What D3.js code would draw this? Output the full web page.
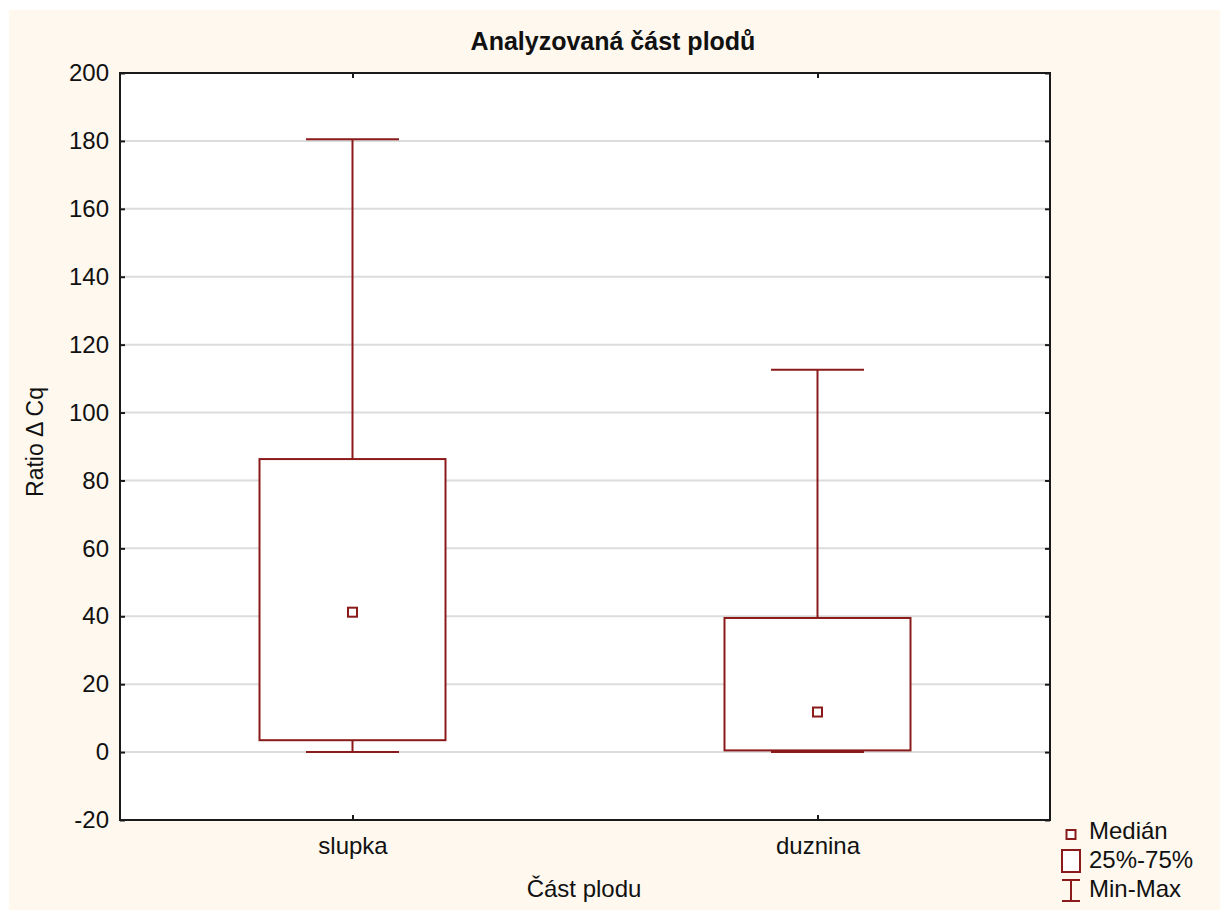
<!DOCTYPE html>
<html>
<head>
<meta charset="utf-8">
<script src="https://cdn.jsdelivr.net/npm/d3@7"></script>
<style>
  html, body { margin: 0; padding: 0; background: #ffffff; }
  svg { display: block; }
  text { font-family: "Liberation Sans", Arial, sans-serif; }
</style>
</head>
<body>
<svg id="chart" width="1227" height="911"></svg>
<script>
// Box plot data: one entry per fruit part
const categories = ["slupka", "duznina"];
const minValues    = [0, 0];
const q1Values     = [3.5, 0.5];
const medianValues = [41.2, 11.8];
const q3Values     = [86.3, 39.5];
const maxValues    = [180.5, 112.6];
const yTicks = [-20, 0, 20, 40, 60, 80, 100, 120, 140, 160, 180, 200];

const title = "Analyzovaná část plodů";
const xTitle = "Část plodu";
const yTitle = "Ratio \u0394 Cq";
const legendLabels = ["Medián", "25%-75%", "Min-Max"];

const boxColor = "#8b1a1a";
const fontSize = "24px";
const svg = d3.select("#chart");

// page background
svg.append("rect").attr("x", 9).attr("y", 10).attr("width", 1211).attr("height", 900)
  .attr("fill", "#fef8ee");

const plot = { left: 120, top: 73, right: 1050, bottom: 820 };

const y = d3.scaleLinear().domain([-20, 200]).range([plot.bottom, plot.top]);
const x = d3.scalePoint().domain(categories).range([plot.left, plot.right]).padding(0.5);
const boxW = (plot.right - plot.left) * 0.2;
const capW = boxW / 2;

// plot area
svg.append("rect").attr("x", plot.left).attr("y", plot.top)
  .attr("width", plot.right - plot.left).attr("height", plot.bottom - plot.top)
  .attr("fill", "#ffffff");

// horizontal grid lines
svg.append("g").selectAll("line").data(yTicks.filter(d => d > -20 && d < 200)).join("line")
  .attr("x1", plot.left).attr("x2", plot.right)
  .attr("y1", d => y(d)).attr("y2", d => y(d))
  .attr("stroke", "#dcdcdc").attr("stroke-width", 2);

// boxes
const data = categories.map((c, i) => ({
  c, min: minValues[i], q1: q1Values[i], med: medianValues[i], q3: q3Values[i], max: maxValues[i]
}));

const g = svg.append("g");
data.forEach(d => {
  const cx = x(d.c);
  // whiskers
  g.append("line").attr("x1", cx).attr("x2", cx).attr("y1", y(d.q3)).attr("y2", y(d.max))
    .attr("stroke", boxColor).attr("stroke-width", 2);
  g.append("line").attr("x1", cx).attr("x2", cx).attr("y1", y(d.q1)).attr("y2", y(d.min))
    .attr("stroke", boxColor).attr("stroke-width", 2);
  g.append("line").attr("x1", cx - capW / 2).attr("x2", cx + capW / 2)
    .attr("y1", y(d.max)).attr("y2", y(d.max))
    .attr("stroke", boxColor).attr("stroke-width", 2);
  g.append("line").attr("x1", cx - capW / 2).attr("x2", cx + capW / 2)
    .attr("y1", y(d.min)).attr("y2", y(d.min))
    .attr("stroke", boxColor).attr("stroke-width", 2);
  // box
  g.append("rect").attr("x", cx - boxW / 2).attr("y", y(d.q3))
    .attr("width", boxW).attr("height", y(d.q1) - y(d.q3))
    .attr("fill", "#ffffff").attr("stroke", boxColor).attr("stroke-width", 2);
  // median marker
  g.append("rect").attr("x", cx - 4.5).attr("y", y(d.med) - 4.5)
    .attr("width", 9).attr("height", 9)
    .attr("fill", "#ffffff").attr("stroke", boxColor).attr("stroke-width", 2);
});

// frame
svg.append("rect").attr("x", plot.left).attr("y", plot.top)
  .attr("width", plot.right - plot.left).attr("height", plot.bottom - plot.top)
  .attr("fill", "none").attr("stroke", "#1a1a1a").attr("stroke-width", 2);

// axes with inward ticks
const yAxisL = d3.axisLeft(y).tickValues(yTicks).tickSize(-5).tickPadding(11).tickFormat(d => String(d));
const yAxisR = d3.axisRight(y).tickValues(yTicks).tickSize(-5).tickFormat("");
const xAxisB = d3.axisBottom(x).tickSize(-5).tickPadding(17);
const xAxisT = d3.axisTop(x).tickSize(-5).tickFormat("");

function styleAxis(sel) {
  sel.select(".domain").remove();
  sel.selectAll(".tick line").attr("stroke", "#1a1a1a").attr("stroke-width", 2);
  sel.selectAll(".tick text").attr("fill", "#111").style("font-size", fontSize)
    .style("font-family", "'Liberation Sans', Arial, sans-serif");
}
svg.append("g").attr("transform", `translate(${plot.left},0)`).call(yAxisL).call(styleAxis);
svg.append("g").attr("transform", `translate(${plot.right},0)`).call(yAxisR).call(styleAxis);
svg.append("g").attr("transform", `translate(0,${plot.bottom})`).call(xAxisB).call(styleAxis);
svg.append("g").attr("transform", `translate(0,${plot.top})`).call(xAxisT).call(styleAxis);

// titles
svg.append("text").attr("x", 613).attr("y", 50).attr("text-anchor", "middle")
  .style("font-size", "25px").style("font-weight", "bold").attr("fill", "#111").text(title);
svg.append("text").attr("x", 584).attr("y", 897).attr("text-anchor", "middle")
  .style("font-size", fontSize).attr("fill", "#111").text(xTitle);
svg.append("text").attr("transform", "translate(43,442) rotate(-90)").attr("text-anchor", "middle")
  .style("font-size", "23px").attr("fill", "#111").text(yTitle);

// legend
const lg = svg.append("g");
const lx = 1071;
lg.append("rect").attr("x", lx - 4.5).attr("y", 830).attr("width", 9).attr("height", 9)
  .attr("fill", "#fff").attr("stroke", boxColor).attr("stroke-width", 2);
lg.append("rect").attr("x", lx - 9).attr("y", 850).attr("width", 18).attr("height", 22)
  .attr("fill", "#fff").attr("stroke", boxColor).attr("stroke-width", 2);
lg.append("line").attr("x1", lx).attr("x2", lx).attr("y1", 880).attr("y2", 901)
  .attr("stroke", boxColor).attr("stroke-width", 2);
lg.append("line").attr("x1", lx - 9).attr("x2", lx + 9).attr("y1", 880).attr("y2", 880)
  .attr("stroke", boxColor).attr("stroke-width", 2);
lg.append("line").attr("x1", lx - 9).attr("x2", lx + 9).attr("y1", 901).attr("y2", 901)
  .attr("stroke", boxColor).attr("stroke-width", 2);
lg.selectAll("text").data(legendLabels).join("text")
  .attr("x", 1089).attr("y", (d, i) => 839 + i * 29)
  .style("font-size", fontSize).attr("fill", "#111").text(d => d);
</script>
</body>
</html>
